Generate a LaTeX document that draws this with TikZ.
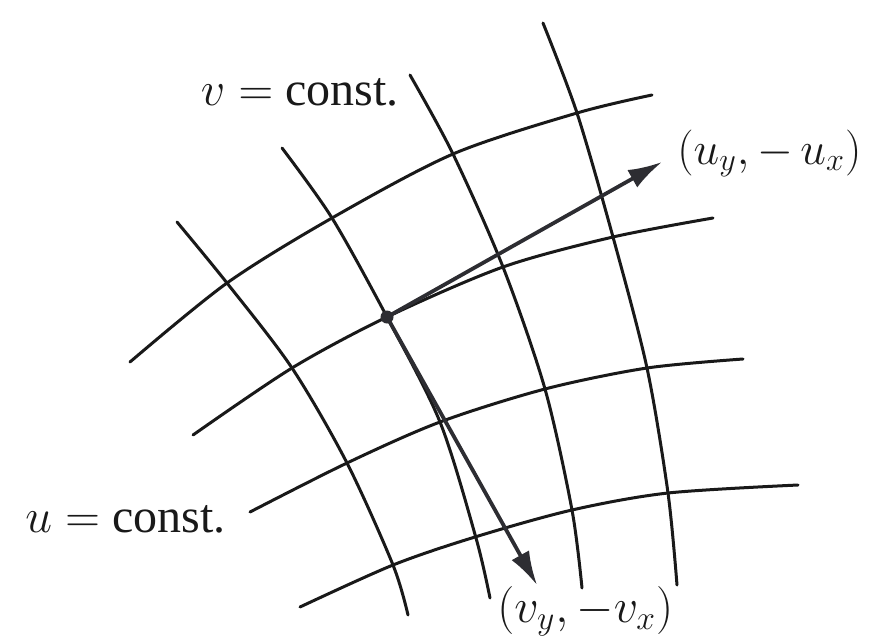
\documentclass[tikz,border=0pt]{standalone}
\usepackage{fix-cm}
\usepackage{fontspec}
\setmainfont{Liberation Serif}
\usetikzlibrary{arrows.meta}
\definecolor{ink}{RGB}{25,25,25}
\definecolor{vecink}{RGB}{45,45,50}
\tikzset{
  gridline/.style={draw=ink, line width=1.5pt, line cap=round},
  vec/.style={draw=vecink, line width=1.9pt, -{Latex[length=17pt,width=10pt]}, fill=vecink, shorten <=-1pt},
  dotnode/.style={circle, fill=vecink, inner sep=0pt, minimum size=6.5pt},
  lbl/.style={inner sep=0pt, font=\fontsize{24}{28}\selectfont, text=ink}
}
\begin{document}
\begin{tikzpicture}[x=0.5pt,y=-0.5pt]
\useasboundingbox (0,0) rectangle (873,643);
% u = const. curves (horizontal-ish)
\draw[gridline] plot[smooth] coordinates {(130,362) (227,283) (332,218) (453,154) (577,113) (652,95)};
\draw[gridline] plot[smooth] coordinates {(193,435) (292,368) (387,317) (503,267) (613,237) (713,218)};
\draw[gridline] plot[smooth] coordinates {(250,512) (347,463) (440,422) (545,389) (647,368) (743,359)};
\draw[gridline] plot[smooth] coordinates {(300,607) (393,565) (475,537) (572,510) (668,493) (798,485)};
% v = const. curves (vertical-ish)
\draw[gridline] plot[smooth] coordinates {(177,222) (227,283) (292,368) (347,463) (393,565) (408,615)};
\draw[gridline] plot[smooth] coordinates {(282,148) (332,218) (387,317) (440,422) (476,538) (490,598)};
\draw[gridline] plot[smooth] coordinates {(410,75) (453,154) (503,267) (545,389) (572,510) (582,588)};
\draw[gridline] plot[smooth] coordinates {(543,23) (577,113) (613,237) (647,368) (668,493) (677,585)};
% point and vectors
\node[dotnode] (P) at (387,317) {};
\coordinate (U) at (662,162);
\coordinate (V) at (537,585);
\draw[vec] (P.center) -- (U);
\draw[vec] (P.center) -- (V);
% labels
\node[lbl, anchor=base east] (lv) at (399,105) {$v =$ const.};
\node[lbl, anchor=base west] (lu) at (25,532) {$u =$ const.};
\node[lbl, anchor=base west, font=\fontsize{23}{27}\selectfont] (lU) at (677,164) {$(u_y,-\,u_x)$};
\node[lbl, anchor=base west] (lV) at (497,622) {$(v_y,-v_x)$};
\end{tikzpicture}
\end{document}
